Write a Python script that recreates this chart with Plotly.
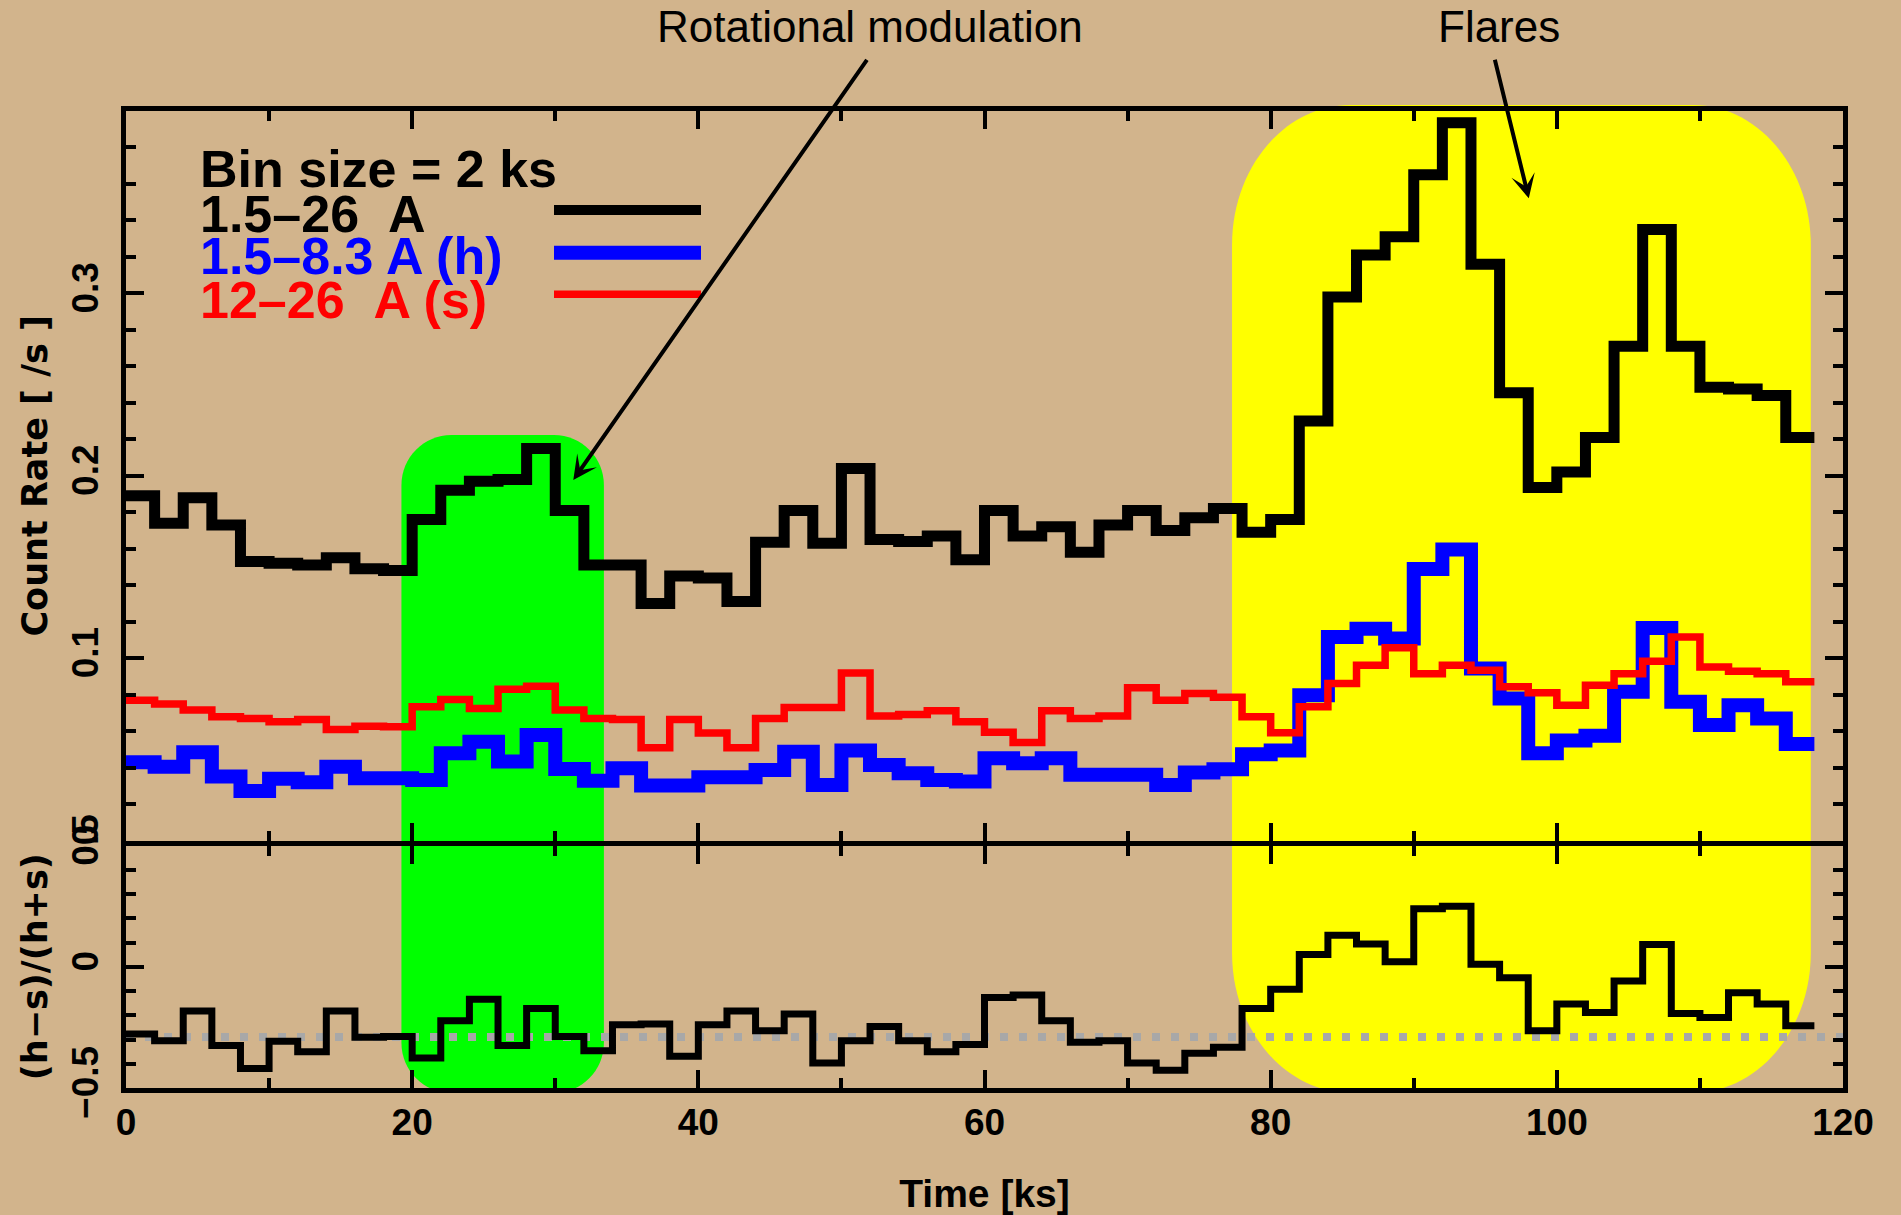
import plotly.graph_objects as go

# ---------------- data (2 ks bins, 0 - 118 ks) ----------------
bin_size = 2.0  # ks

total_rate = [0.189, 0.174, 0.188, 0.173, 0.153, 0.152, 0.151, 0.155, 0.149, 0.148,
              0.176, 0.192, 0.197, 0.198, 0.215, 0.181, 0.151, 0.151, 0.130, 0.145,
              0.144, 0.131, 0.1635, 0.181, 0.163, 0.204, 0.165, 0.164, 0.167, 0.154,
              0.181, 0.167, 0.172, 0.158, 0.173, 0.181, 0.170, 0.177, 0.182, 0.169,
              0.176, 0.230, 0.298, 0.321, 0.331, 0.365, 0.3935, 0.316, 0.2455, 0.1935,
              0.202, 0.221, 0.271, 0.335, 0.271, 0.2485, 0.2476, 0.244, 0.221]

hard_rate = [0.0429, 0.0405, 0.0484, 0.0351, 0.0272, 0.0338, 0.0320, 0.0405, 0.0342, 0.0342,
             0.0332, 0.0478, 0.0542, 0.0433, 0.0578, 0.0392, 0.0327, 0.0396, 0.0302, 0.0302,
             0.0347, 0.0347, 0.0387, 0.0487, 0.0305, 0.0493, 0.0414, 0.0369, 0.0332, 0.0323,
             0.0451, 0.0423, 0.0451, 0.0360, 0.0360, 0.0360, 0.0305, 0.0373, 0.0390, 0.0473,
             0.0493, 0.0797, 0.1116, 0.1161, 0.1107, 0.1489, 0.1595, 0.0943, 0.0779, 0.0478,
             0.0548, 0.0575, 0.0815, 0.1165, 0.0761, 0.0633, 0.0742, 0.0669, 0.0529]

soft_rate = [0.0769, 0.0748, 0.0715, 0.0679, 0.0669, 0.0651, 0.0664, 0.0609, 0.0627, 0.0624,
             0.0733, 0.0773, 0.0724, 0.0830, 0.0846, 0.0715, 0.0669, 0.0664, 0.0509, 0.0664,
             0.0590, 0.0509, 0.0669, 0.0729, 0.0729, 0.0919, 0.0682, 0.0691, 0.0711, 0.0651,
             0.0593, 0.0538, 0.0711, 0.0669, 0.0682, 0.0837, 0.0769, 0.0806, 0.0785, 0.0679,
             0.0591, 0.0733, 0.0861, 0.0961, 0.1057, 0.0915, 0.0961, 0.0933, 0.0843, 0.0810,
             0.0742, 0.0851, 0.0915, 0.0983, 0.1116, 0.0952, 0.0928, 0.0915, 0.0870]

hardness = [-0.277, -0.305, -0.182, -0.325, -0.420, -0.307, -0.350, -0.182, -0.291, -0.288,
            -0.376, -0.223, -0.134, -0.325, -0.172, -0.288, -0.346, -0.239, -0.236, -0.369,
            -0.239, -0.182, -0.264, -0.195, -0.397, -0.305, -0.246, -0.305, -0.350, -0.321,
            -0.127, -0.116, -0.223, -0.311, -0.305, -0.397, -0.427, -0.357, -0.332, -0.172,
            -0.093, 0.051, 0.130, 0.094, 0.021, 0.239, 0.249, 0.010, -0.045, -0.264,
            -0.154, -0.189, -0.059, 0.092, -0.193, -0.209, -0.107, -0.154, -0.243]

mean_hardness = -0.29

# highlighted intervals (ks)
rot_interval = [19.25, 33.4]
flare_interval = [77.3, 117.75]

x_range = [0, 120]
x_major = [0, 20, 40, 60, 80, 100, 120]
rate_range = [0, 0.4]
rate_ticks = [0, 0.1, 0.2, 0.3]
rate_ticktext = ["0", "0.1", "0.2", "0.3"]
hr_range = [-0.5, 0.5]
hr_ticks = [-0.5, 0, 0.5]
hr_ticktext = ["\u22120.5", "0", "0.5"]

legend_lines = [
    ("Bin size = 2 ks", "black", None),
    ("1.5\u201326\u00a0\u00a0A", "black", 10),
    ("1.5\u20138.3 A (h)", "#0000FF", 14),
    ("12\u201326\u00a0\u00a0A (s)", "#FF0000", 7.5),
]

# ---------------- styling ----------------
TAN = "#D2B48C"
FONT = "Liberation Sans"
TITLE_FONT = "DejaVu Sans"
W, H = 1901, 1215
ML, MR, MT, MB = 126, 58, 111, 127
PW, PH = W - ML - MR, H - MT - MB
PLOT_BOTTOM = MT + PH
lower_top = (PLOT_BOTTOM - 845.5) / PH
upper_bottom = (PLOT_BOTTOM - 840.5) / PH

edges = [bin_size * i for i in range(len(total_rate) + 1)]


def steps(vals):
    return list(vals) + [vals[-1]]


fig = go.Figure()
fig.add_trace(go.Scatter(x=edges, y=steps(total_rate), mode="lines",
                         line=dict(color="black", width=11, shape="hv"),
                         xaxis="x2", yaxis="y2", name="1.5-26 A"))
fig.add_trace(go.Scatter(x=edges, y=steps(hard_rate), mode="lines",
                         line=dict(color="#0000FF", width=14, shape="hv"),
                         xaxis="x2", yaxis="y2", name="1.5-8.3 A (h)"))
fig.add_trace(go.Scatter(x=edges, y=steps(soft_rate), mode="lines",
                         line=dict(color="#FF0000", width=7.5, shape="hv"),
                         xaxis="x2", yaxis="y2", name="12-26 A (s)"))
fig.add_trace(go.Scatter(x=x_range, y=[mean_hardness, mean_hardness], mode="lines",
                         line=dict(color="#A8A8A8", width=8, dash="8px,11px"),
                         xaxis="x", yaxis="y", name="mean"))
fig.add_trace(go.Scatter(x=edges, y=steps(hardness), mode="lines",
                         line=dict(color="black", width=7, shape="hv"),
                         xaxis="x", yaxis="y", name="(h-s)/(h+s)"))

tickfont = dict(family=FONT, size=37, color="black", weight="bold")
minor_common = dict(ticklen=10, tickwidth=4, ticks="inside", tickcolor="black")
axis_common = dict(showline=True, linecolor="black", linewidth=5, mirror="ticks",
                   ticks="inside", tickwidth=4, tickcolor="black", ticklen=18,
                   showgrid=False, zeroline=False, tickfont=tickfont, automargin=False)

fig.update_layout(
    width=W, height=H,
    margin=dict(l=ML, r=MR, t=MT, b=MB, pad=0, autoexpand=False),
    paper_bgcolor=TAN, plot_bgcolor=TAN,
    showlegend=False,
    font=dict(family=FONT, color="black"),
    xaxis=dict(domain=[0, 1], range=x_range, anchor="y", tickvals=x_major,
               minor=dict(dtick=10, **minor_common),
               title=dict(text="Time [ks]", font=dict(family=FONT, size=39, weight="bold"), standoff=46),
               ticklabelstandoff=-2,
               **axis_common),
    yaxis=dict(domain=[0, lower_top], range=hr_range, anchor="x", tickvals=hr_ticks, ticktext=hr_ticktext,
               tickangle=-90,
               minor=dict(dtick=0.1, **minor_common),
               title=dict(text="(h\u2212s)/(h+s)", font=dict(family=TITLE_FONT, size=35, weight="bold"), standoff=8),
               ticklabelstandoff=8,
               **axis_common),
    xaxis2=dict(domain=[0, 1], range=x_range, anchor="y2", matches="x", tickvals=x_major,
                showticklabels=False,
                minor=dict(dtick=10, **minor_common),
                **axis_common),
    yaxis2=dict(domain=[upper_bottom, 1], range=rate_range, anchor="x2", tickvals=rate_ticks,
                ticktext=rate_ticktext, tickangle=-90,
                minor=dict(dtick=0.02, **minor_common),
                title=dict(text="Count Rate [ /s ]", font=dict(family=TITLE_FONT, size=35, weight="bold"), standoff=8),
                ticklabelstandoff=8,
                **axis_common),
)


# ---------------- highlight boxes (rounded rectangles) ----------------
def to_paper_x(xv):
    return (xv - x_range[0]) / (x_range[1] - x_range[0])


def py_to_paper(py):
    return (PLOT_BOTTOM - py) / PH


def px_to_paper(px):
    return (px - ML) / PW


def rounded_path(x0, x1, y0, y1, rpx_x, rpx_y):
    rx, ry = rpx_x / PW, rpx_y / PH
    k = 0.5523
    return (f"M {x0+rx},{y1} L {x1-rx},{y1} "
            f"C {x1-rx+k*rx},{y1} {x1},{y1-ry+k*ry} {x1},{y1-ry} "
            f"L {x1},{y0+ry} "
            f"C {x1},{y0+ry-k*ry} {x1-rx+k*rx},{y0} {x1-rx},{y0} "
            f"L {x0+rx},{y0} "
            f"C {x0+rx-k*rx},{y0} {x0},{y0+ry-k*ry} {x0},{y0+ry} "
            f"L {x0},{y1-ry} "
            f"C {x0},{y1-ry+k*ry} {x0+rx-k*rx},{y1} {x0+rx},{y1} Z")


fig.add_shape(type="path", xref="paper", yref="paper", layer="below",
              path=rounded_path(to_paper_x(rot_interval[0]), to_paper_x(rot_interval[1]),
                                py_to_paper(1093), py_to_paper(435), 50, 50),
              fillcolor="#00FF00", line=dict(width=0))
fig.add_shape(type="path", xref="paper", yref="paper", layer="below",
              path=rounded_path(to_paper_x(flare_interval[0]), to_paper_x(flare_interval[1]),
                                py_to_paper(1092.7), py_to_paper(105), 118, 140),
              fillcolor="#FFFF00", line=dict(width=0))

# ---------------- legend block ----------------
legend_y_px = [169, 214, 256, 300]
legend_line_y_px = [None, 210, 252.7, 294.3]
for (txt, col, lw), ty, ly in zip(legend_lines, legend_y_px, legend_line_y_px):
    fig.add_annotation(text=txt, xref="paper", yref="paper", x=px_to_paper(198), y=py_to_paper(ty),
                       xanchor="left", yanchor="middle", showarrow=False,
                       font=dict(family=FONT, size=52, color=col, weight="bold"))
    if lw:
        fig.add_shape(type="line", xref="paper", yref="paper",
                      x0=px_to_paper(554), x1=px_to_paper(701), y0=py_to_paper(ly), y1=py_to_paper(ly),
                      line=dict(color=col, width=lw))

# ---------------- annotations with arrows ----------------
fig.add_annotation(text="Rotational modulation", xref="paper", yref="paper",
                   x=px_to_paper(870), y=py_to_paper(27), xanchor="center", yanchor="middle",
                   showarrow=False, font=dict(family=FONT, size=44, color="black"))
fig.add_annotation(text="Flares", xref="paper", yref="paper",
                   x=px_to_paper(1498.6), y=py_to_paper(27), xanchor="center", yanchor="middle",
                   showarrow=False, font=dict(family=FONT, size=44, color="black"))
fig.add_annotation(text="", xref="paper", yref="paper",
                   x=px_to_paper(573.3), y=py_to_paper(480), ax=868 - 573.3, ay=58.3 - 480,
                   showarrow=True, arrowhead=3, arrowsize=1, arrowwidth=4, arrowcolor="black", standoff=0)
fig.add_annotation(text="", xref="paper", yref="paper",
                   x=px_to_paper(1528.8), y=py_to_paper(198.3), ax=1494.5 - 1528.8, ay=58.3 - 198.3,
                   showarrow=True, arrowhead=3, arrowsize=1, arrowwidth=4, arrowcolor="black", standoff=0)

fig.write_html("out.html")
